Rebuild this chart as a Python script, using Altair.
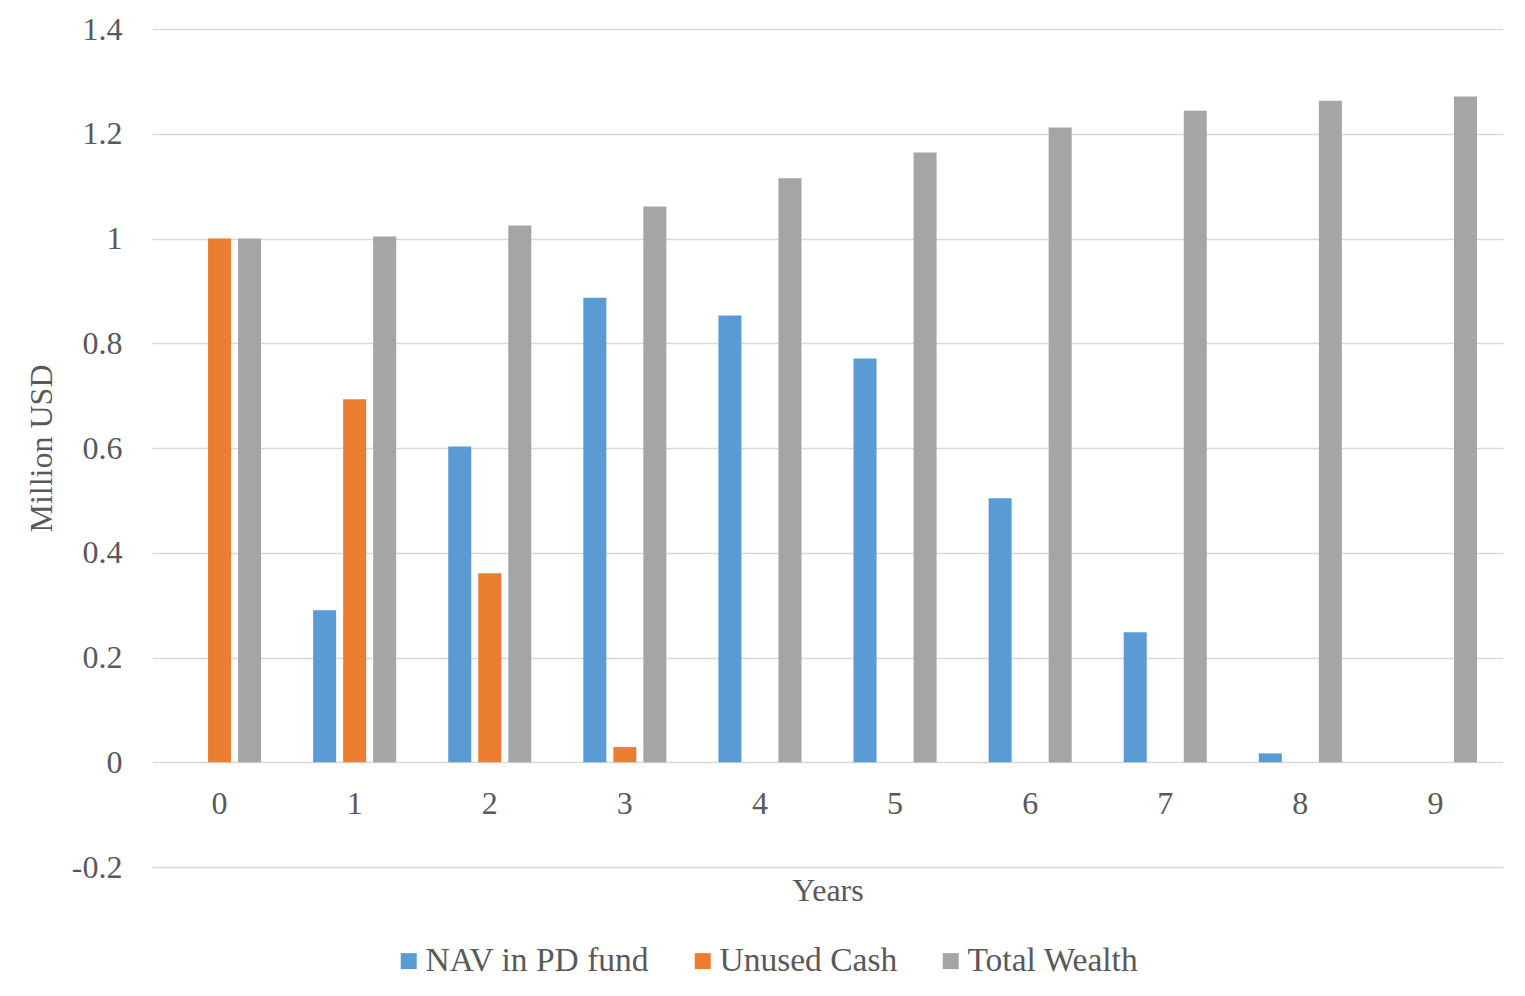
import altair as alt
import pandas as pd

years = [0, 1, 2, 3, 4, 5, 6, 7, 8, 9]
nav = [0.0, 0.290, 0.603, 0.887, 0.853, 0.771, 0.504, 0.248, 0.017, 0.0]
cash = [1.0, 0.693, 0.361, 0.029, 0.0, 0.0, 0.0, 0.0, 0.0, 0.0]
total = [1.0, 1.004, 1.025, 1.061, 1.115, 1.164, 1.212, 1.244, 1.263, 1.271]
series = ["NAV in PD fund", "Unused Cash", "Total Wealth"]
colors = ["#5B9BD5", "#ED7D31", "#A5A5A5"]
y_ticks = [-0.2, 0, 0.2, 0.4, 0.6, 0.8, 1, 1.2, 1.4]

rows = []
for name, vals in zip(series, [nav, cash, total]):
    for yr, v in zip(years, vals):
        rows.append({"year": str(yr), "series": name, "value": v})
df = pd.DataFrame(rows)

FONT = "Liberation Serif"
TXT = "#595959"
W, H = 1351, 838
ymin, ymax = -0.2, 1.4
zero_off = -H * (0 - ymin) / (ymax - ymin)

chart = alt.Chart(df).mark_bar().encode(
    x=alt.X("year:N", sort=[str(y) for y in years],
            scale=alt.Scale(paddingInner=1/3, paddingOuter=1/6),
            axis=alt.Axis(title="Years", labelAngle=0, domain=False, ticks=False, grid=False,
                          labelFont=FONT, labelFontSize=32, labelColor=TXT, labelPadding=26,
                          titleFont=FONT, titleFontSize=32, titleFontWeight="normal",
                          titleColor=TXT, titlePadding=56, offset=zero_off)),
    xOffset=alt.XOffset("series:N", sort=series,
                        scale=alt.Scale(domain=series, paddingInner=7/30, paddingOuter=7/60)),
    y=alt.Y("value:Q",
            scale=alt.Scale(domain=[ymin, ymax], nice=False, zero=False),
            axis=alt.Axis(title="Million USD", values=y_ticks, labelExpr="toString(datum.value)",
                          grid=True, gridColor="#D9D9D9", gridWidth=1.5,
                          domain=False, ticks=False,
                          labelFont=FONT, labelFontSize=32, labelColor=TXT, labelPadding=30,
                          titleFont=FONT, titleFontSize=32, titleFontWeight="normal",
                          titleColor=TXT, titlePadding=13)),
    color=alt.Color("series:N", sort=series,
                    scale=alt.Scale(domain=series, range=colors),
                    legend=alt.Legend(title=None, orient="none", legendX=240, legendY=915,
                                      direction="horizontal", symbolType="square",
                                      symbolSize=256, symbolStrokeWidth=0,
                                      labelFont=FONT, labelFontSize=33.5, labelColor=TXT,
                                      labelLimit=0, labelOffset=0, columnPadding=36)),
).properties(
    width=W, height=H,
    autosize=alt.AutoSizeParams(type="none"),
    padding={"left": 144, "top": 21, "right": 10, "bottom": 115},
).configure_view(strokeWidth=0)

chart.save("out.html", embed_options={"renderer": "svg", "actions": False})
